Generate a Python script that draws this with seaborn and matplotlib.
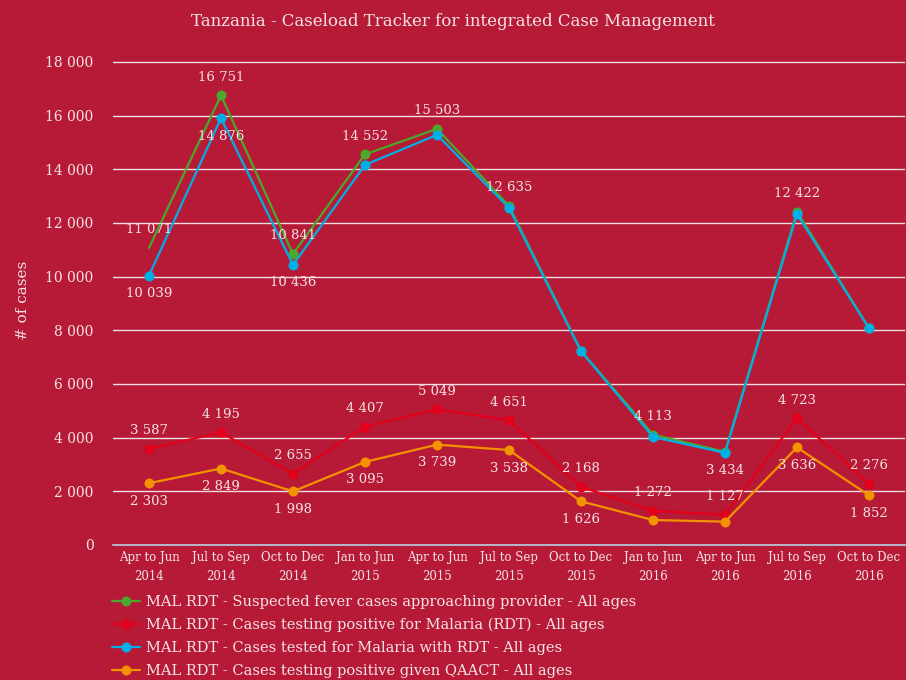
import matplotlib.pyplot as plt
import seaborn as sns
import pandas as pd
import numpy as np
from matplotlib.ticker import FuncFormatter, FixedLocator
from matplotlib.lines import Line2D

periods = ["Apr to Jun\n2014", "Jul to Sep\n2014", "Oct to Dec\n2014", "Jan to Jun\n2015",
           "Apr to Jun\n2015", "Jul to Sep\n2015", "Oct to Dec\n2015", "Jan to Jun\n2016",
           "Apr to Jun\n2016", "Jul to Sep\n2016", "Oct to Dec\n2016"]

suspected = [11071, 16751, 10841, 14552, 15503, 12635, 7230, 4113, 3470, 12422, 8080]
positive_rdt = [3587, 4195, 2655, 4407, 5049, 4651, 2168, 1272, 1127, 4723, 2276]
tested_rdt = [10039, 15900, 10436, 14160, 15280, 12560, 7220, 4025, 3434, 12330, 8070]
positive_qaact = [2303, 2849, 1998, 3095, 3739, 3538, 1626, 930, 870, 3636, 1852]

# data labels as shown on the chart (None = no label)
suspected_labels = [11071, 16751, 10841, 14552, 15503, 12635, None, 4113, None, 12422, None]
positive_rdt_labels = positive_rdt
tested_rdt_labels = [10039, 14876, 10436, None, None, None, None, None, 3434, None, None]
positive_qaact_labels = [2303, 2849, 1998, 3095, 3739, 3538, 1626, None, None, 3636, 1852]

series_names = [
    "MAL RDT - Suspected fever cases approaching provider - All ages",
    "MAL RDT - Cases testing positive for Malaria (RDT) - All ages",
    "MAL RDT - Cases tested for Malaria with RDT - All ages",
    "MAL RDT - Cases testing positive given QAACT - All ages",
]
colors = ["#4aa82c", "#e2001a", "#00afe6", "#f39200"]

BG = "#b71a36"
TXT = "#f3e3e7"

sns.set_style("white")
plt.rcParams['font.family'] = ['DejaVu Serif', 'DejaVu Sans']

fig = plt.figure(figsize=(9.06, 6.8), dpi=100, facecolor=BG)
ax = fig.add_axes([113 / 906, 135 / 680, 792 / 906, 510 / 680])
ax.set_facecolor(BG)

x = np.arange(len(periods))
df = pd.DataFrame({"x": np.tile(x, 4),
                   "value": suspected + positive_rdt + tested_rdt + positive_qaact,
                   "series": np.repeat(series_names, len(periods))})

sns.lineplot(data=df, x="x", y="value", hue="series", palette=colors, ax=ax,
             linewidth=1.6, legend=False)
for line, vals in zip(ax.lines, [suspected, positive_rdt, tested_rdt, positive_qaact]):
    line.set_marker("o")
    line.set_markersize(7.2)
    line.set_markeredgewidth(0)
    if vals is suspected:
        line.set_markevery(list(range(1, len(vals))))
# blue on top of green, as in the original
ax.lines[2].set_zorder(4)
ax.lines[0].set_zorder(3)

label_sets = [(suspected, suspected_labels, 1), (positive_rdt, positive_rdt_labels, 1),
              (tested_rdt, tested_rdt_labels, -1), (positive_qaact, positive_qaact_labels, -1)]
for vals, labs, side in label_sets:
    for i, (v, lab) in enumerate(zip(vals, labs)):
        if lab is None:
            continue
        ax.annotate(f"{lab:,}".replace(",", " "), (i, v), xytext=(0, 13 * side),
                    textcoords="offset points", ha="center", va="center",
                    color=TXT, fontsize=9.5, zorder=6)

ax.set_xlim(-0.5, len(periods) - 0.5)
ax.set_ylim(0, 19000)
ax.yaxis.set_major_locator(FixedLocator(np.arange(0, 18001, 2000)))
ax.yaxis.set_major_formatter(FuncFormatter(lambda v, p: f"{int(v):,}".replace(",", " ")))
ax.grid(axis="y", color="#f0dde2", linewidth=1)
ax.set_axisbelow(True)

ax.set_xticks(x)
ax.set_xticklabels(periods, fontsize=8.5, color=TXT, linespacing=1.6)
ax.set_xticks(np.arange(-0.5, len(periods)), minor=True)
ax.tick_params(axis="x", which="major", length=0, pad=4)
ax.tick_params(axis="x", which="minor", length=5, color="#b8cde0", width=1)
ax.tick_params(axis="y", length=0, labelsize=10, labelcolor=TXT, pad=14)

for s in ["left", "right", "top"]:
    ax.spines[s].set_visible(False)
ax.spines["bottom"].set_color("#b8cde0")
ax.spines["bottom"].set_linewidth(1.2)

ax.set_xlabel("")
ax.set_ylabel("# of cases", color=TXT, fontsize=11, labelpad=14)
ax.yaxis.set_label_coords(-0.105, 0.48)

fig.text(0.5, 0.969, "Tanzania - Caseload Tracker for integrated Case Management",
         ha="center", va="center", color=TXT, fontsize=12)

handles = [Line2D([0], [0], color=c, marker="o", markersize=7.2, markeredgewidth=0,
                  linewidth=1.6) for c in colors]
leg = fig.legend(handles, series_names, loc="upper left", bbox_to_anchor=(106 / 906, 1 - 589 / 680),
                 frameon=False, fontsize=10.5, labelcolor=TXT, handlelength=1.9,
                 handletextpad=0.45, labelspacing=0.62, borderaxespad=0)

fig.savefig("out.png", dpi=100, facecolor=BG)
